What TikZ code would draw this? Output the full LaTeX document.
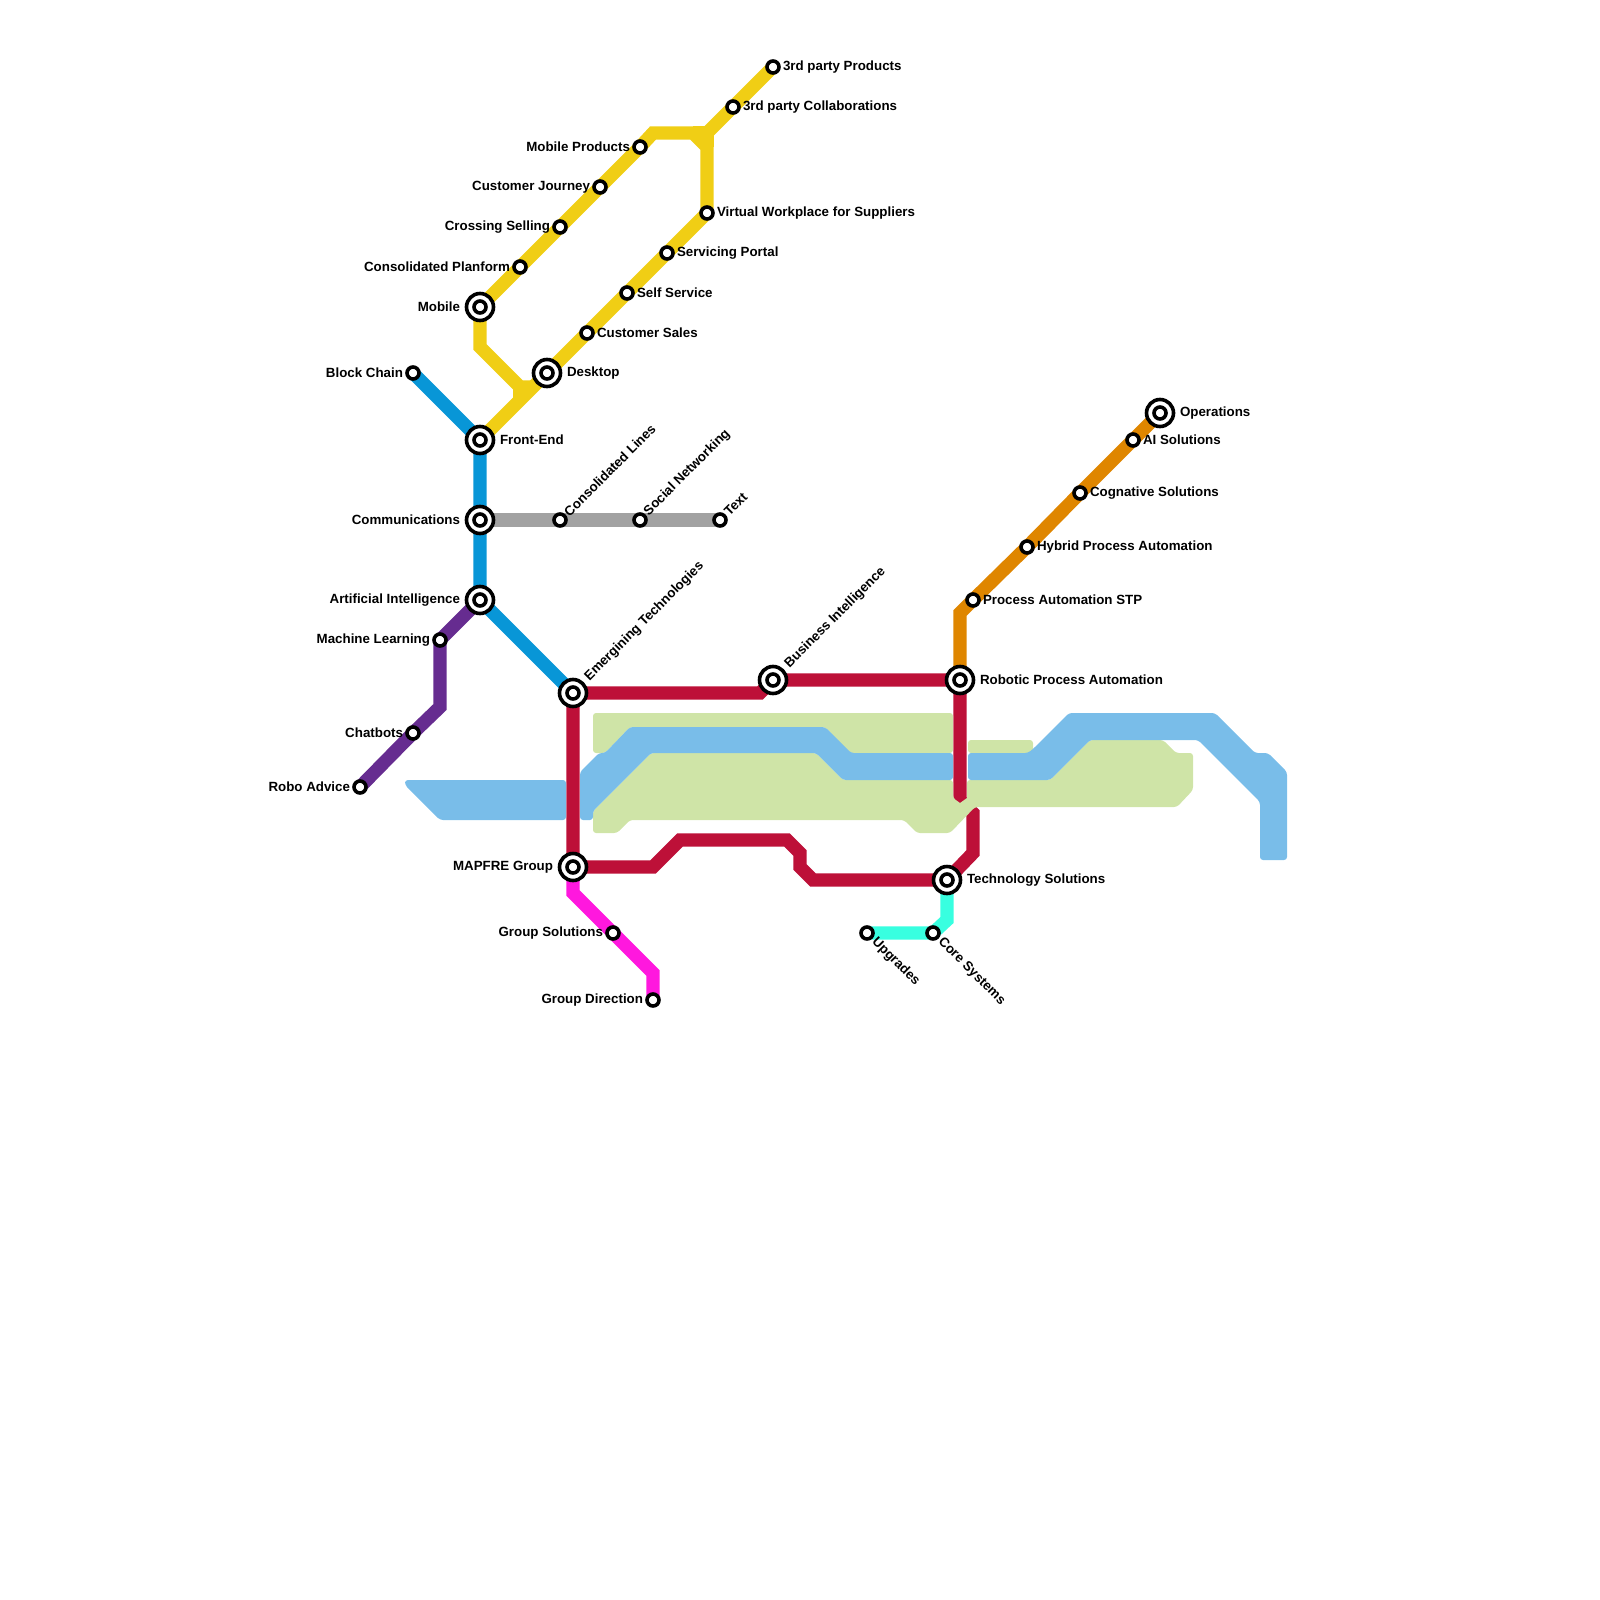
\documentclass[tikz,border=0pt]{standalone}
\usepackage{fontspec}
\setmainfont{Liberation Sans}
\usetikzlibrary{backgrounds}
\definecolor{lineyellow}{HTML}{F0CE15}
\definecolor{lineblue}{HTML}{0896D7}
\definecolor{linegrey}{HTML}{A2A2A2}
\definecolor{linepurple}{HTML}{662C90}
\definecolor{linered}{HTML}{BD1038}
\definecolor{linepink}{HTML}{FF18DE}
\definecolor{lineorange}{HTML}{DF8600}
\definecolor{lineteal}{HTML}{38FFE0}
\definecolor{bandblue}{HTML}{79BDE9}
\definecolor{bandgreen}{HTML}{CFE4A7}
\tikzset{
  metro/.style={line width=13.33pt,line join=miter,line cap=butt},
  band/.style={fill=#1,draw=none,rounded corners=3pt},
  stoptext/.style={font=\bfseries\fontsize{13.33}{15}\selectfont,inner sep=2pt,text=black},
  slanttext/.style={stoptext,inner sep=1pt},
  hubtext/.style={stoptext,inner sep=4.5pt},
  stop/.style={circle,draw=black,fill=white,line width=3.6pt,minimum size=12pt,inner sep=0pt},
  hub/.style={circle,draw=black,fill=white,line width=3.6pt,minimum size=27pt,inner sep=0pt,
    label={[stop]center:}},
}

\begin{document}
\begin{tikzpicture}[x=1pt,y=-1pt]
    \useasboundingbox (0,0) rectangle (1600,1600);

    % stops
    \node[stop,label={[stoptext]right:3rd party Products}] (products) at (773,67) {};
    \node[stop,label={[stoptext]right:3rd party Collaborations}] (collab) at (733,107) {};
    \node[stop,label={[stoptext]left:Mobile Products}] (mobileprod) at (640,147) {};
    \node[stop,label={[stoptext]left:Customer Journey}] (journey) at (600,187) {};
    \node[stop,label={[stoptext]left:Crossing Selling}] (crossing) at (560,227) {};
    \node[stop,label={[stoptext]left:Consolidated Planform}] (planform) at (520,267) {};
    \node[hub,label={[hubtext]left:Mobile}] (mobile) at (480,307) {};
    \node[stop,label={[stoptext]right:Virtual Workplace for Suppliers}] (virtual) at (707,213) {};
    \node[stop,label={[stoptext]right:Servicing Portal}] (servicing) at (667,253) {};
    \node[stop,label={[stoptext]right:Self Service}] (selfserv) at (627,293) {};
    \node[stop,label={[stoptext]right:Customer Sales}] (sales) at (587,333) {};
    \node[hub,label={[hubtext]right:Desktop}] (desktop) at (547,373) {};
    \node[hub,label={[hubtext]right:Front-End}] (frontend) at (480,440) {};
    \node[stop,label={[stoptext]left:Block Chain}] (blockchain) at (413,373) {};
    \node[hub,label={[hubtext]left:Communications}] (comms) at (480,520) {};
    \node[hub,label={[hubtext]left:Artificial Intelligence}] (artificial) at (480,600) {};
    \node[stop,label={[slanttext,rotate=45,anchor=west]45:Consolidated Lines}] (conslines) at (560,520) {};
    \node[stop,label={[slanttext,rotate=45,anchor=west]45:Social Networking}] (social) at (640,520) {};
    \node[stop,label={[slanttext,rotate=45,anchor=west]45:Text}] (textstop) at (720,520) {};
    \node[stop,label={[stoptext]left:Machine Learning}] (machine) at (440,640) {};
    \node[stop,label={[stoptext]left:Chatbots}] (chatbots) at (413,733) {};
    \node[stop,label={[stoptext]left:Robo Advice}] (robo) at (360,787) {};
    \node[hub,label={[hubtext,rotate=45,anchor=west]45:Emergining Technologies}] (emerging) at (573,693) {};
    \node[hub,label={[hubtext,rotate=45,anchor=west]45:Business Intelligence}] (business) at (773,680) {};
    \node[hub,label={[hubtext]right:Robotic Process Automation}] (robotic) at (960,680) {};
    \node[hub,label={[hubtext]left:MAPFRE Group}] (mapfre) at (573,867) {};
    \node[stop,label={[stoptext]left:Group Solutions}] (groupsol) at (613,933) {};
    \node[stop,label={[stoptext]left:Group Direction}] (groupdir) at (653,1000) {};
    \node[hub,label={[hubtext]right:Technology Solutions}] (technology) at (947,880) {};
    \node[stop,label={[stoptext,rotate=-45,anchor=west]-45:Core Systems}] (core) at (933,933) {};
    \node[stop,label={[stoptext,rotate=-45,anchor=west]-45:Upgrades}] (upgrades) at (867,933) {};
    \node[stop,label={[stoptext]right:Process Automation STP}] (stp) at (973,600) {};
    \node[stop,label={[stoptext]right:Hybrid Process Automation}] (hybrid) at (1027,547) {};
    \node[stop,label={[stoptext]right:Cognative Solutions}] (cognative) at (1080,493) {};
    \node[stop,label={[stoptext]right:AI Solutions}] (aisol) at (1133,440) {};
    \node[hub,label={[hubtext]right:Operations}] (operations) at (1160,413) {};

    % bends
    \coordinate (topleft) at (653,133);
    \coordinate (topmid) at (693,133);
    \coordinate (topright) at (707,147);
    \coordinate (topjoin) at (707,133);
    \coordinate (mobilebend) at (480,347);
    \coordinate (yelbend) at (520,387);
    \coordinate (yelflat) at (533,387);
    \coordinate (yeldown) at (520,400);
    \coordinate (purpledown) at (440,707);
    \coordinate (bizbend) at (760,693);
    \coordinate (redone) at (960,800);
    \coordinate (redtwo) at (973,813);
    \coordinate (redthree) at (973,853);
    \coordinate (mapone) at (653,867);
    \coordinate (maptwo) at (680,840);
    \coordinate (mapthree) at (787,840);
    \coordinate (mapfour) at (800,853);
    \coordinate (mapfive) at (800,867);
    \coordinate (mapsix) at (813,880);
    \coordinate (pinkone) at (573,893);
    \coordinate (pinktwo) at (653,973);
    \coordinate (tealone) at (947,920);
    \coordinate (orangebend) at (960,613);

    \begin{scope}[on background layer]
    % lines
    \draw[metro,lineyellow] (mobile.center) -- (planform.center) -- (crossing.center) -- (journey.center)
      -- (mobileprod.center) -- (topleft) -- (topmid) -- (topright) -- (virtual.center) -- (servicing.center)
      -- (selfserv.center) -- (sales.center) -- (desktop.center) -- (frontend.center);
    \draw[metro,lineyellow] (products.center) -- (collab.center) -- (topjoin);
    \draw[metro,lineyellow] (topmid) -- (topjoin);
    \draw[metro,lineyellow] (topjoin) -- (topright);
    \draw[metro,lineyellow] (mobile.center) -- (mobilebend) -- (yelbend) -- (yelflat);
    \draw[metro,lineyellow] (yelbend) -- (yeldown);
    \draw[metro,lineblue] (blockchain.center) -- (frontend.center) -- (comms.center) -- (artificial.center) -- (emerging.center);
    \draw[metro,linegrey] (comms.center) -- (conslines.center) -- (social.center) -- (textstop.center);
    \draw[metro,linepurple] (artificial.center) -- (machine.center) -- (purpledown) -- (chatbots.center) -- (robo.center);
    \draw[metro,lineorange] (robotic.center) -- (orangebend) -- (stp.center) -- (hybrid.center) -- (cognative.center)
      -- (aisol.center) -- (operations.center);
    \draw[metro,linepink] (mapfre.center) -- (pinkone) -- (groupsol.center) -- (pinktwo) -- (groupdir.center);
    \draw[metro,lineteal] (technology.center) -- (tealone) -- (core.center) -- (upgrades.center);
    \draw[metro,linered] (emerging.center) -- (mapfre.center) -- (mapone) -- (maptwo) -- (mapthree) -- (mapfour)
      -- (mapfive) -- (mapsix) -- (technology.center) -- (redthree) -- (redtwo) -- (redone) -- (robotic.center)
      -- (business.center) -- (bizbend) -- (emerging.center);

    % wide bands
    \fill[band=bandgreen] (593,713) -- (953,713) -- (953,753) -- (850,753) -- (825,727) -- (630,727) -- (605,753) -- (593,753) -- cycle;
    \fill[band=bandgreen] (968,740) -- (1033,740) -- (1033,753) -- (968,753) -- cycle;
    \fill[band=bandgreen] (651,753) -- (816,753) -- (843,780) -- (953,780) -- (953,798) [sharp corners] -- (960,803) -- (967,798)
      [rounded corners=3pt] -- (967,780) -- (1050,780) -- (1090,740) -- (1163,740) -- (1176,753) -- (1193,753) -- (1193,790)
      -- (1177,807) -- (975,807) -- (950,833) -- (917,833) -- (904,820) -- (630,820) -- (617,833) -- (593,833) -- (593,811) -- cycle;
    \fill[band=bandblue] (405,780) -- (566,780) -- (566,820) -- (440,820) -- (405,785) -- cycle;
    \fill[band=bandblue] (580,772) -- (599,753) -- (605,753) -- (630,727) -- (825,727) -- (851,753) -- (953,753) -- (953,780) -- (843,780)
      -- (816,753) -- (651,753) -- (593,811) -- (593,820) -- (580,820) -- cycle;
    \fill[band=bandblue] (968,753) -- (1028,753) -- (1033,749) -- (1069,713) -- (1215,713) -- (1255,753) -- (1268,753) -- (1287,772)
      -- (1287,860) -- (1260,860) -- (1260,802) -- (1198,740) -- (1090,740) -- (1050,780) -- (968,780) -- cycle;
    \end{scope}
\end{tikzpicture}
\end{document}
